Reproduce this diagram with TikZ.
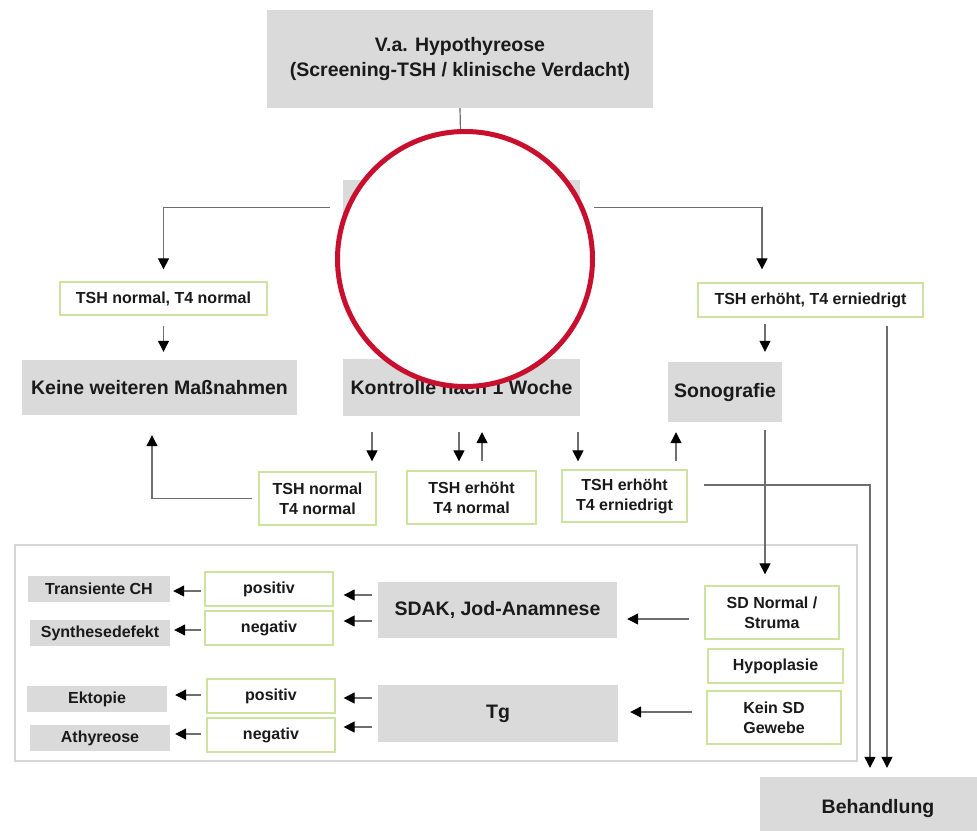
\documentclass[tikz,border=0pt]{standalone}
\usepackage{fontspec}
\setmainfont{Liberation Sans}
\usetikzlibrary{arrows.meta}
\definecolor{boxgrey}{HTML}{DADADA}
\definecolor{boxgreen}{HTML}{CFE3A0}
\definecolor{framegrey}{HTML}{D6D6D6}
\definecolor{linegrey}{HTML}{6E6E6E}
\definecolor{txt}{HTML}{1A1A1A}
\definecolor{ringred}{HTML}{C8102E}
\begin{document}
\begin{tikzpicture}[x=1pt,y=-1pt,
  big/.style={font=\fontsize{19.5}{25}\selectfont\bfseries, text=txt},
  small/.style={font=\fontsize{16}{20}\selectfont\bfseries, text=txt},
  greybox/.style={fill=boxgrey, inner sep=0pt, align=center},
  greenbox/.style={draw=boxgreen, line width=1.3pt, fill=white, inner sep=0pt, align=center},
  conn/.style={draw=linegrey, line width=1.2pt, -{Triangle[width=11pt,length=11pt,color=black]}},
  plain/.style={draw=linegrey, line width=1.2pt}]
\useasboundingbox (0,0) rectangle (977,830);
\fill[white] (0,0) rectangle (977,830);

% top
\node[greybox,big,minimum width=386pt,minimum height=98pt] (top) at (460,59) {V.a. Hypothyreose\\(Screening-TSH / klinische Verdacht)};
\node[greybox,minimum width=237pt,minimum height=55pt] (hid) at (461.5,207.5) {};

% row 2
\node[greenbox,small,minimum width=207pt,minimum height=33pt] (tn) at (163.5,298.5) {TSH normal, T4 normal};
\node[greenbox,small,minimum width=225pt,minimum height=34pt] (te) at (810.5,300) {TSH erh\"oht, T4 erniedrigt};

% row 3
\node[greybox,big,minimum width=275pt,minimum height=55pt] (keine) at (159.5,387.5) {Keine weiteren Ma\ss nahmen};
\node[greybox,big,minimum width=237pt,minimum height=57pt] (kon) at (461.5,387.5) {Kontrolle nach 1 Woche};
\node[greybox,big,minimum width=114pt,minimum height=60pt] (sono) at (725,392) {Sonografie};

% row 4
\node[greenbox,small,minimum width=117pt,minimum height=53pt] (m1) at (317.5,498.5) {TSH normal\\T4 normal};
\node[greenbox,small,minimum width=129pt,minimum height=53pt] (m2) at (471.5,497.5) {TSH erh\"oht\\T4 normal};
\node[greenbox,small,minimum width=125pt,minimum height=52pt] (m3) at (624.5,496) {TSH erh\"oht\\T4 erniedrigt};

% frame
\node[draw=framegrey, line width=1.3pt, minimum width=842pt, minimum height=216pt, inner sep=0pt] (frame) at (436,653) {};

% bottom section
\node[greybox,small,minimum width=142pt,minimum height=26pt] (trans) at (99,589) {Transiente CH};
\node[greybox,small,minimum width=140pt,minimum height=26pt] (synth) at (100,633) {Synthesedefekt};
\node[greybox,small,minimum width=140pt,minimum height=26pt] (ekt) at (97,699) {Ektopie};
\node[greybox,small,minimum width=140pt,minimum height=26pt] (athy) at (100,738) {Athyreose};

\node[greenbox,small,minimum width=128pt,minimum height=34pt] (pos1) at (269,589) {positiv};
\node[greenbox,small,minimum width=128pt,minimum height=34pt] (neg1) at (269,628) {negativ};
\node[greenbox,small,minimum width=128pt,minimum height=34pt] (pos2) at (271,696) {positiv};
\node[greenbox,small,minimum width=128pt,minimum height=34pt] (neg2) at (271,735) {negativ};

\node[greybox,big,minimum width=239pt,minimum height=56pt] (sdak) at (497.5,610) {SDAK, Jod-Anamnese};
\node[greybox,big,minimum width=240pt,minimum height=57pt] (tg) at (498,713.5) {Tg};

\node[greenbox,small,minimum width=134pt,minimum height=53pt] (sdn) at (772,612.5) {SD Normal /\\Struma};
\node[greenbox,small,minimum width=135pt,minimum height=34pt] (hypo) at (775.5,666) {Hypoplasie};
\node[greenbox,small,minimum width=134pt,minimum height=53pt] (kein) at (774,717.5) {Kein SD\\Gewebe};

\node[greybox,big,minimum width=236pt,minimum height=62pt] (beh) at (878,808) {Behandlung};

% connectors top
\draw[plain] (top.south) -- (hid.north);
\draw[conn] ([xshift=-13pt]hid.west) -| ([yshift=12pt]tn.north);
\draw[conn] ([xshift=14pt]hid.east) -| ([xshift=-48.5pt,yshift=13pt]te.north);
\draw[conn] ([yshift=-10pt]tn.south) -- ([xshift=4pt,yshift=8pt]keine.north);
\draw[conn] ([xshift=-45.5pt,yshift=-6pt]te.south) -- ([xshift=40pt,yshift=10pt]sono.north);
\draw[conn] ([xshift=76.5pt,yshift=-8pt]te.south) -- ([xshift=9pt,yshift=9pt]beh.north);

% middle row
\draw[conn] ([xshift=-89.5pt,yshift=-16pt]kon.south) -- ([xshift=54.5pt,yshift=10pt]m1.north);
\draw[conn] ([xshift=-2.5pt,yshift=-16pt]kon.south) -- ([xshift=-12.5pt,yshift=9pt]m2.north);
\draw[conn] ([xshift=10.5pt,yshift=9pt]m2.north) -- ([xshift=20.5pt,yshift=-16pt]kon.south);
\draw[conn] ([xshift=116.5pt,yshift=-16pt]kon.south) -- ([xshift=-46.5pt,yshift=8pt]m3.north);
\draw[conn] ([xshift=51.5pt,yshift=8pt]m3.north) -- ([xshift=-49pt,yshift=-10pt]sono.south);
\draw[conn] ([xshift=-6pt]m1.west) -| ([xshift=-7.5pt,yshift=-20pt]keine.south);
\draw[conn] ([xshift=16pt,yshift=11pt]m3.east) -| ([xshift=-8pt,yshift=9pt]beh.north);
\draw[conn] ([xshift=40pt,yshift=-8pt]sono.south) -- ([xshift=-7pt,yshift=11pt]sdn.north);

% bottom arrows
\draw[conn] ([xshift=-15pt,yshift=-6.5pt]sdn.west) -- ([xshift=10pt,yshift=-9pt]sdak.east);
\draw[conn] ([xshift=-14pt,yshift=5.5pt]kein.west) -- ([xshift=12pt,yshift=1.5pt]tg.east);
\draw[conn] ([xshift=-6pt,yshift=15pt]sdak.west) -- ([xshift=10pt,yshift=-6pt]pos1.east);
\draw[conn] ([xshift=-6pt,yshift=-11pt]sdak.west) -- ([xshift=10pt,yshift=7pt]neg1.east);
\draw[conn] ([xshift=-6pt,yshift=15.5pt]tg.west) -- ([xshift=8pt,yshift=-2pt]pos2.east);
\draw[conn] ([xshift=-6pt,yshift=-13.5pt]tg.west) -- ([xshift=8pt,yshift=8pt]neg2.east);
\draw[conn] ([xshift=-3pt,yshift=-2pt]pos1.west) -- ([xshift=3pt,yshift=-2pt]trans.east);
\draw[conn] ([xshift=-3pt,yshift=-2pt]neg1.west) -- ([xshift=4pt,yshift=3pt]synth.east);
\draw[conn] ([xshift=-5pt,yshift=1pt]pos2.west) -- ([xshift=8pt,yshift=4pt]ekt.east);
\draw[conn] ([xshift=-5pt,yshift=1pt]neg2.west) -- ([xshift=5pt,yshift=4pt]athy.east);

% red ring overlay
\node[draw=ringred, line width=5pt, fill=white, circle, minimum size=255pt, inner sep=0pt] (ring) at (465,259) {};
\end{tikzpicture}
\end{document}
